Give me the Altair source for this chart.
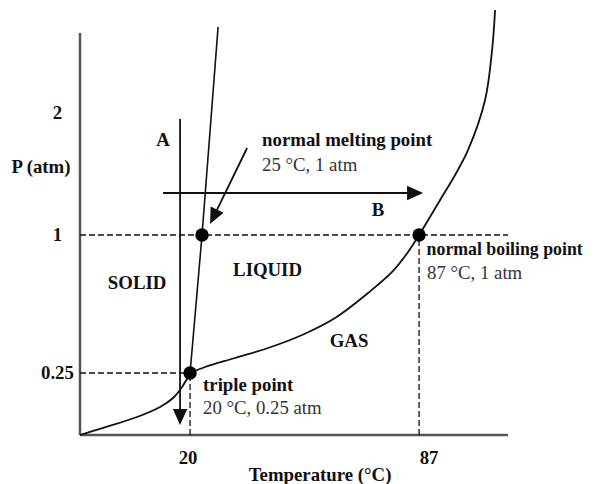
import altair as alt
import pandas as pd

# ---- data (temperature in °C, pressure in atm) ----
sub_T = [-12.2, -5.45, 4.49, 11.22, 15.03, 17.66, 20.0]
sub_P = [0.0638, 0.0795, 0.1069, 0.1349, 0.1624, 0.1990, 0.25]

vap_T = [20.0, 24.39, 33.17, 42.82, 52.77, 62.42, 72.08, 79.10, 83.78, 87.0,
         93.15, 97.53, 101.34, 106.31, 108.36, 109.24]
vap_P = [0.25, 0.2734, 0.3102, 0.3534, 0.4132, 0.4972, 0.6328, 0.7574, 0.8850, 1.0,
         1.2556, 1.4533, 1.6634, 2.1193, 2.6219, 3.0566]

melt_T = [20.0, 23.5, 28.2]
melt_P = [0.25, 1.0, 2.87]

pt_names = ["triple point", "normal melting point", "normal boiling point"]
pt_T = [20.0, 23.5, 87.0]
pt_P = [0.25, 1.0, 1.0]

# dashed guide lines (T, T2, P, P2)
guide_T = [-12.2, -12.2, 20.0, 87.0]
guide_T2 = [113.0, 20.0, 20.0, 87.0]
guide_P = [1.0, 0.25, 0.0638, 0.0638]
guide_P2 = [1.0, 0.25, 0.25, 1.0]

# axis lines
axis_T = [-12.2, -12.2]
axis_T2 = [-12.2, 113.0]
axis_P = [0.0638, 0.0638]
axis_P2 = [2.803, 0.0638]

# arrows: start, head position, head angle
arr_T = [17.07, 12.10, 36.68]
arr_P = [1.940, 1.3097, 1.6806]
arr_T2 = [17.07, 85.83, 26.88]
arr_P2 = [0.107, 1.3097, 1.1298]
arr_angle = [0, 270, 26]

# labels
bc_text = ["2", "1", "0.25", "P (atm)", "A", "B", "SOLID", "LIQUID", "GAS",
           "20", "87", "Temperature (°C)"]
bc_T = [-18.8, -18.8, -18.8, -23.6, 12.10, 75.0, 4.49, 42.67, 66.52, 19.41, 89.93, 58.04]
bc_P = [2.0, 1.0, 0.25, 1.519, 1.7507, 1.18, 0.691, 0.7698, 0.3851, 0.02331, 0.02331, 0.005226]

bl_text = ["normal melting point", "triple point"]
bl_T = [41.07, 23.80]
bl_P = [1.7507, 0.2060]

boil_text = ["normal boiling point"]
boil_T = [89.2]
boil_P = [0.8982]

rl_text = ["25 °C, 1 atm", "87 °C, 1 atm", "20 °C, 0.25 atm"]
rl_T = [41.07, 89.34, 23.80]
rl_P = [1.5358, 0.7513, 0.1320]

FONT = "Liberation Serif"
FS = 18.8

xs = alt.Scale(domain=[-12.2, 113.6], nice=False, zero=False)
ys = alt.Scale(type="pow", exponent=0.57, domain=[0.0638, 3.079], nice=False, zero=False)


def X(f="T"):
    return alt.X(f"{f}:Q", scale=xs, axis=None)


def Y(f="P"):
    return alt.Y(f"{f}:Q", scale=ys, axis=None)


sub_df = pd.DataFrame({"T": sub_T, "P": sub_P})
vap_df = pd.DataFrame({"T": vap_T, "P": vap_P})
melt_df = pd.DataFrame({"T": melt_T, "P": melt_P})
pt_df = pd.DataFrame({"name": pt_names, "T": pt_T, "P": pt_P})
guide_df = pd.DataFrame({"T": guide_T, "T2": guide_T2, "P": guide_P, "P2": guide_P2})
axis_df = pd.DataFrame({"T": axis_T, "T2": axis_T2, "P": axis_P, "P2": axis_P2})
arr_df = pd.DataFrame({"T": arr_T, "P": arr_P, "T2": arr_T2, "P2": arr_P2, "angle": arr_angle})
head_df = pd.DataFrame({"T": arr_T2, "P": arr_P2, "angle": arr_angle})
bc_df = pd.DataFrame({"text": bc_text, "T": bc_T, "P": bc_P})
bl_df = pd.DataFrame({"text": bl_text, "T": bl_T, "P": bl_P})
boil_df = pd.DataFrame({"text": boil_text, "T": boil_T, "P": boil_P})
rl_df = pd.DataFrame({"text": rl_text, "T": rl_T, "P": rl_P})

axes = alt.Chart(axis_df).mark_rule(color="#555555", strokeWidth=2.5).encode(
    x=X(), x2="T2:Q", y=Y(), y2="P2:Q")

guides = alt.Chart(guide_df).mark_rule(color="#111111", strokeWidth=1.3, strokeDash=[6, 3]).encode(
    x=X(), x2="T2:Q", y=Y(), y2="P2:Q")

sub = alt.Chart(sub_df).mark_line(color="#111111", strokeWidth=1.8, interpolate="catmull-rom").encode(
    x=X(), y=Y(), order="T:Q")
vap = alt.Chart(vap_df).mark_line(color="#111111", strokeWidth=1.8, interpolate="catmull-rom").encode(
    x=X(), y=Y(), order="T:Q")
melt = alt.Chart(melt_df).mark_line(color="#111111", strokeWidth=1.6).encode(
    x=X(), y=Y(), order="T:Q")

arrows = alt.Chart(arr_df).mark_rule(color="#111111", strokeWidth=1.8).encode(
    x=X(), x2="T2:Q", y=Y(), y2="P2:Q")
heads = alt.Chart(head_df).mark_point(
    shape="M-0.9,-1L0.9,-1L0,1Z", filled=True, color="#111111", opacity=1, size=256
).encode(x=X(), y=Y(), angle=alt.Angle("angle:Q", scale=None))

dots = alt.Chart(pt_df).mark_circle(color="#000000", size=180, opacity=1).encode(x=X(), y=Y())

bc = alt.Chart(bc_df).mark_text(font=FONT, fontSize=FS, fontWeight="bold", align="center",
                                baseline="middle", color="#111111").encode(x=X(), y=Y(), text="text:N")
bl = alt.Chart(bl_df).mark_text(font=FONT, fontSize=FS, fontWeight="bold", align="left",
                                baseline="middle", color="#111111").encode(x=X(), y=Y(), text="text:N")
boil = alt.Chart(boil_df).mark_text(font=FONT, fontSize=17.8, fontWeight="bold", align="left",
                                    baseline="middle", color="#111111").encode(x=X(), y=Y(), text="text:N")
rl = alt.Chart(rl_df).mark_text(font=FONT, fontSize=FS, fontWeight="normal", align="left",
                                baseline="middle", color="#333333").encode(x=X(), y=Y(), text="text:N")

chart = alt.layer(axes, guides, sub, vap, melt, arrows, heads, dots, bc, bl, boil, rl).properties(
    width=430, height=427,
    padding={"left": 72, "top": 0, "right": 76, "bottom": 49},
    autosize=alt.AutoSizeParams(type="none"),
    background="white",
).configure_view(stroke=None)

chart.save("out.html", embed_options={"renderer": "svg", "actions": False})
